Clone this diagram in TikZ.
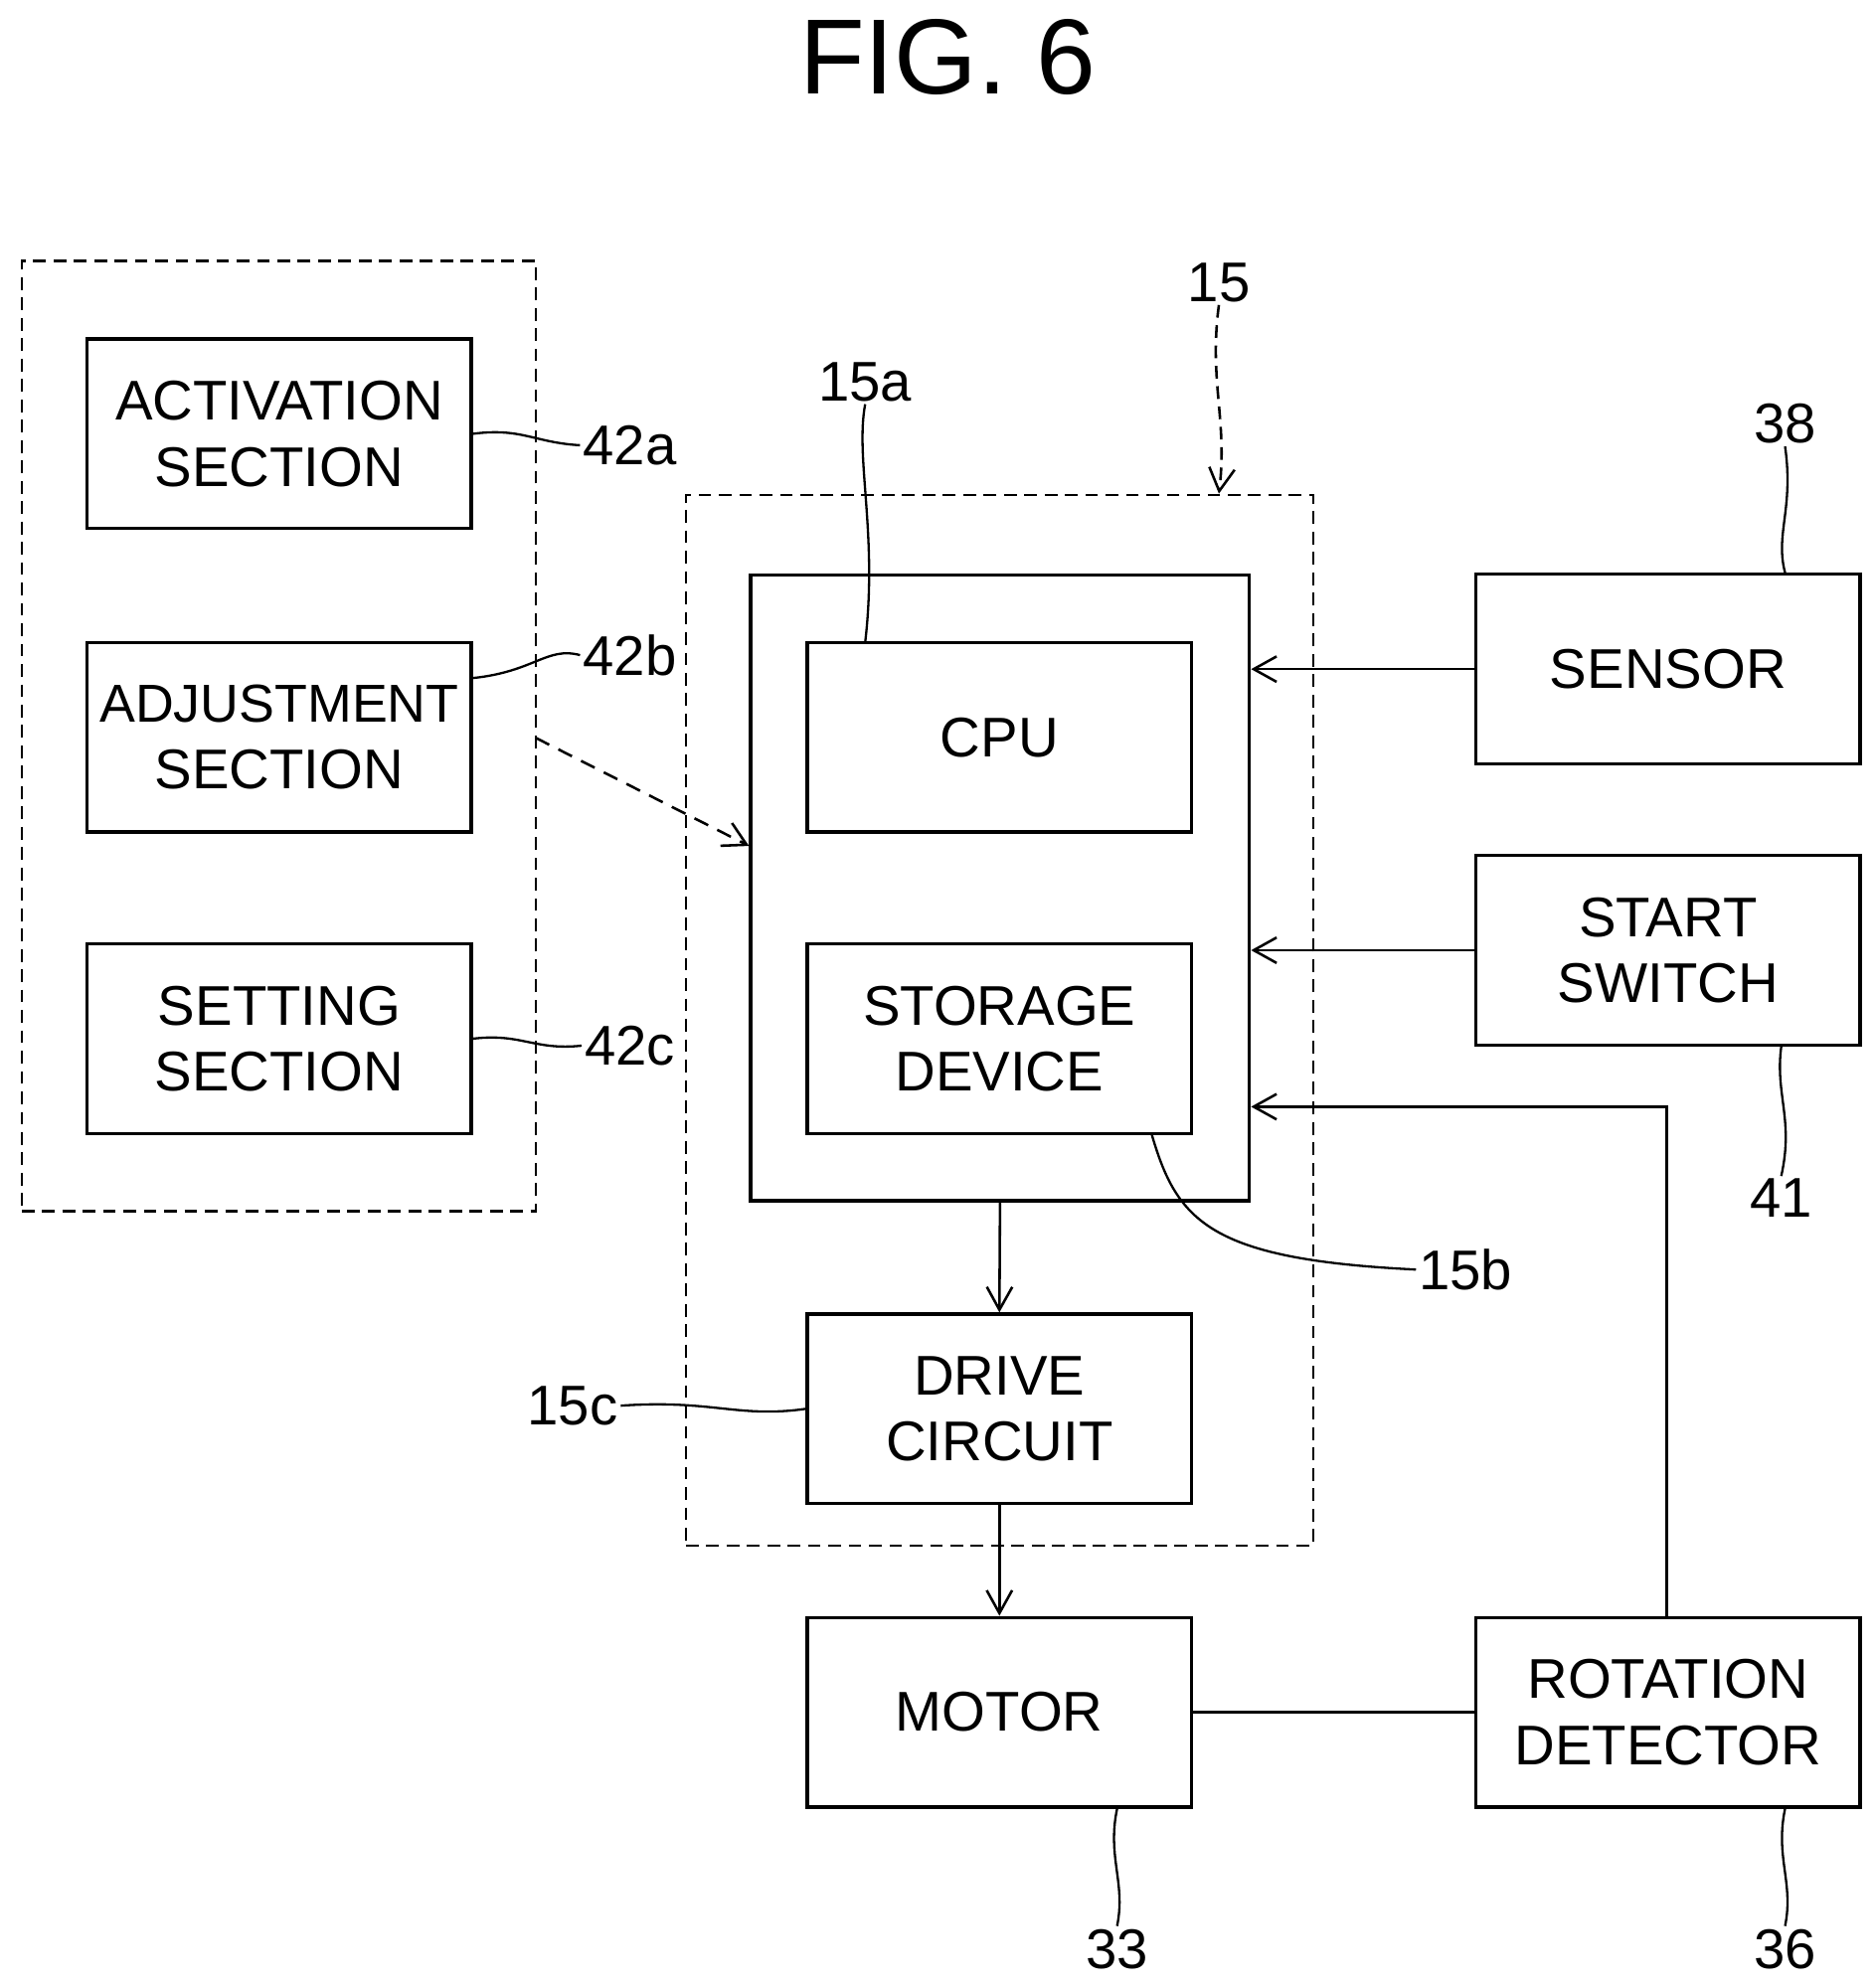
\documentclass[tikz,border=0pt]{standalone}
\usepackage{fontspec}
\setmainfont{Liberation Sans}
\usetikzlibrary{arrows.meta}
\begin{document}
\begin{tikzpicture}[x=0.5pt,y=-0.5pt,
  box/.style={draw,line width=1.3pt,minimum width=151pt,minimum height=74.5pt,align=center,font=\fontsize{22}{26}\selectfont,inner sep=0pt},
  lbl/.style={font=\fontsize{22}{24}\selectfont,inner sep=1pt},
  dsh/.style={draw,line width=0.9pt,dash pattern=on 5pt off 3pt},
  arr/.style={-{Straight Barb[length=9pt,width=10pt]},line width=1pt},
  lead/.style={line width=0.9pt}]
\useasboundingbox (0,0) rectangle (1474,1562);
\node[font=\fontsize{42}{46}\selectfont] (title) at (745,45) {FIG. 6};
\node[dsh,minimum width=202pt,minimum height=373.5pt] (left) at (219,578.5) {};
\node[dsh,minimum width=246.5pt,minimum height=413pt] (ctl) at (785.5,802) {};
\node[draw,line width=1.3pt,minimum width=196pt,minimum height=246pt] (inner) at (786,698) {};
\node[box] (act) at (219.5,341) {ACTIVATION\\SECTION};
\node[box] (adj) at (219.5,579.5) {\fontsize{21}{26}\selectfont ADJUSTMENT\\SECTION};
\node[box] (set) at (219.5,816.5) {SETTING\\SECTION};
\node[box] (cpu) at (785.5,579.5) {CPU};
\node[box] (stor) at (785.5,816.5) {STORAGE\\DEVICE};
\node[box] (drive) at (785.5,1107.5) {DRIVE\\CIRCUIT};
\node[box] (motor) at (785.5,1346) {MOTOR};
\node[box] (sensor) at (1311,526) {SENSOR};
\node[box] (start) at (1311,747) {START\\SWITCH};
\node[box] (rot) at (1311,1346) {ROTATION\\DETECTOR};
\node[lbl] (l42a) at (495,350) {42a};
\node[lbl] (l42b) at (495,515) {42b};
\node[lbl] (l42c) at (495,822) {42c};
\node[lbl] (l15) at (958,222) {15};
\node[lbl] (l15a) at (680,300) {15a};
\node[lbl] (l15b) at (1152,998) {15b};
\node[lbl] (l15c) at (450,1105) {15c};
\node[lbl] (l33) at (878,1532) {33};
\node[lbl] (l36) at (1403,1532) {36};
\node[lbl] (l38) at (1403,333) {38};
\node[lbl] (l41) at (1400,942) {41};
% leaders
\draw[lead] (act.east) .. controls (410,336) and (420,348) .. (l42a.west);
\draw[lead] (adj.east |- 0,533) .. controls (420,528) and (430,508) .. (l42b.west);
\draw[lead] (set.east) .. controls (410,812) and (420,826) .. (l42c.west);
\draw[lead] (l15a.south) .. controls (672,360) and (690,420) .. (680,505);
\draw[lead] (905,891) .. controls (925,960) and (950,990) .. (l15b.west);
\draw[lead] (l15c.east) .. controls (560,1100) and (580,1115) .. (drive.west);
\draw[lead] (motor.south -| 878,0) .. controls (870,1460) and (885,1480) .. (l33.north);
\draw[lead] (rot.south -| 1403,0) .. controls (1395,1460) and (1410,1480) .. (l36.north);
\draw[lead] (l38.south) .. controls (1410,400) and (1395,420) .. (sensor.north -| 1403,0);
\draw[lead] (start.south -| 1400,0) .. controls (1395,860) and (1410,880) .. (l41.north);
\draw[lead,arr,dash pattern=on 5pt off 3pt] (l15.south) .. controls (950,300) and (965,330) .. (ctl.north -| 958,0);
% connections
\draw[arr] (sensor.west) -- (inner.east |- sensor.west);
\draw[arr] (start.west) -- (inner.east |- start.west);
\coordinate (rc) at (1310,870);
\draw[arr] (rot.north -| rc) -- (rc) -- (inner.east |- rc);
\draw[arr] (inner.south) -- (drive.north);
\draw[arr] (drive.south) -- (motor.north);
\draw[line width=1pt] (motor.east) -- (rot.west);
\draw[arr,dash pattern=on 6pt off 4pt] (421,580) -- (inner.west |- 0,665);
\end{tikzpicture}
\end{document}
